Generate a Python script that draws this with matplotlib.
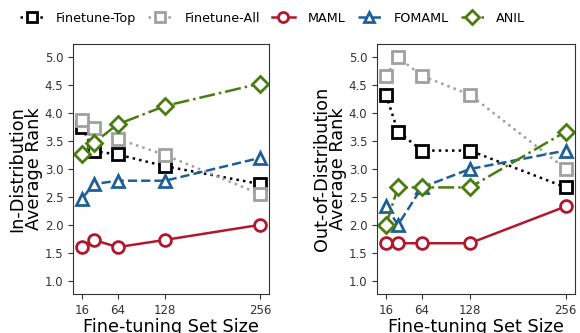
import matplotlib
matplotlib.use('Agg')
import matplotlib.pyplot as plt

sizes = [16, 32, 64, 128, 256]
xticks = [16, 64, 128, 256]

# in-distribution average rank
id_ft_top = [3.75, 3.32, 3.26, 3.05, 2.73]
id_ft_all = [3.87, 3.73, 3.54, 3.25, 2.55]
id_maml = [1.60, 1.73, 1.60, 1.73, 2.00]
id_fomaml = [2.47, 2.73, 2.79, 2.79, 3.20]
id_anil = [3.27, 3.47, 3.80, 4.13, 4.53]

# out-of-distribution average rank
ood_ft_top = [4.33, 3.67, 3.33, 3.33, 2.67]
ood_ft_all = [4.67, 5.00, 4.67, 4.33, 3.00]
ood_maml = [1.67, 1.67, 1.67, 1.67, 2.33]
ood_fomaml = [2.33, 2.00, 2.67, 3.00, 3.33]
ood_anil = [2.00, 2.67, 2.67, 2.67, 3.67]

names = ['Finetune-Top', 'Finetune-All', 'MAML', 'FOMAML', 'ANIL']
colors = ['black', '#a0a0a0', '#b2182b', '#1f5f96', '#4a7c12']
markers = ['s', 's', 'o', '^', 'D']
styles = [':', ':', '-', '--', '-.']
msizes = [8.5, 8.5, 8.5, 8.5, 8]

plt.rcParams['axes.edgecolor'] = '#333333'
plt.rcParams['xtick.color'] = '#333333'
plt.rcParams['ytick.color'] = '#333333'

fig = plt.figure(figsize=(5.8, 3.33), dpi=100)
ax1 = fig.add_axes([0.126, 0.117, 0.338, 0.751])
ax2 = fig.add_axes([0.650, 0.117, 0.341, 0.751])

panels = [(ax1, [id_ft_top, id_ft_all, id_maml, id_fomaml, id_anil], 'In-Distribution\nAverage Rank'),
          (ax2, [ood_ft_top, ood_ft_all, ood_maml, ood_fomaml, ood_anil], 'Out-of-Distribution\nAverage Rank')]

for ax, series, ylab in panels:
    for vals, n, c, m, ls, ms in zip(series, names, colors, markers, styles, msizes):
        ax.plot(sizes, vals, linestyle=ls, color=c, marker=m, markersize=ms,
                markerfacecolor='white', markeredgewidth=2, linewidth=1.8, label=n)
    ax.set_ylim(0.76, 5.24)
    ax.set_yticks([1.0, 1.5, 2.0, 2.5, 3.0, 3.5, 4.0, 4.5, 5.0])
    ax.set_xticks(xticks)
    ax.tick_params(labelsize=8.5)
    ax.set_xlabel('Fine-tuning Set Size', fontsize=12.7, labelpad=1)
    ax.set_ylabel(ylab, fontsize=12.7, labelpad=1, linespacing=0.9)

handles, labels = ax1.get_legend_handles_labels()
fig.legend(handles, labels, loc='upper left', bbox_to_anchor=(0.015, 1.0), ncol=5,
           frameon=False, fontsize=9.2, handlelength=1.8, columnspacing=0.95,
           handletextpad=1.0, markerscale=0.85)

plt.savefig('out.png', dpi=100)
